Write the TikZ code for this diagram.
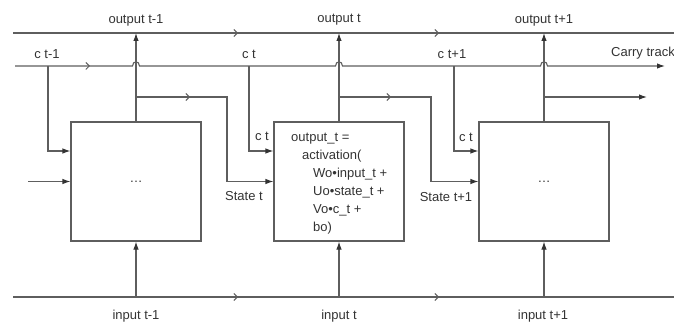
\documentclass[tikz,border=0pt]{standalone}
\usepackage{fontspec}
\setmainfont{Liberation Sans}
\usetikzlibrary{arrows.meta,decorations.markings}
\definecolor{ln}{HTML}{5E5E5E}
\definecolor{tx}{HTML}{333333}
\begin{document}
\begin{tikzpicture}[x=1pt,y=-1pt,
  every node/.style={font=\fontsize{13}{18}\selectfont, text=tx},
  wire/.style={draw=ln, line width=1.1pt},
  tip/.style={-{Latex[length=8pt,width=5.5pt,color=tx]}},
  cell/.style={draw=ln, line width=1.1pt, minimum width=130pt, minimum height=119pt, inner sep=0pt},
  chev/.style={postaction={decorate}, decoration={markings,
     mark=at position #1 with {\arrow[ln]{Straight Barb[length=3.5pt,width=7pt,line width=1pt]}}}},
  chevs/.style 2 args={postaction={decorate}, decoration={markings,
     mark=at position #1 with {\arrow[ln]{Straight Barb[length=3.5pt,width=7pt,line width=1pt]}},
     mark=at position #2 with {\arrow[ln]{Straight Barb[length=3.5pt,width=7pt,line width=1pt]}}}},
]
\useasboundingbox (0,0) rectangle (674,323);

% boxes
\node[cell] (b1) at (136,181.5) {\ldots};
\node[cell] (b2) at (339,181.5) {};
\node[cell] (b3) at (544,181.5) {\ldots};
\node[anchor=north west, align=left, inner sep=0pt] (b2txt) at (291,133)
  {output\_t =\\\hspace{11pt}activation(\\\hspace{22pt}Wo•input\_t +\\\hspace{22pt}Uo•state\_t +\\\hspace{22pt}Vo•c\_t +\\\hspace{22pt}bo)};

% coordinates
\coordinate (tl) at (13,33);  \coordinate (tr) at (674,33);
\coordinate (bl) at (13,297); \coordinate (br) at (674,297);
\coordinate (cl) at (15,66);  \coordinate (cr) at (665,66);
\coordinate (o1) at (136,33); \coordinate (o2) at (339,33); \coordinate (o3) at (544,33);
\coordinate (i1) at (136,297); \coordinate (i2) at (339,297); \coordinate (i3) at (544,297);
\coordinate (h1a) at (132.5,66); \coordinate (h1b) at (139.5,66);
\coordinate (h2a) at (335.5,66); \coordinate (h2b) at (342.5,66);
\coordinate (h3a) at (540.5,66); \coordinate (h3b) at (547.5,66);
\coordinate (s1) at (136,97); \coordinate (s1r) at (227,97);
\coordinate (s2) at (339,97); \coordinate (s2r) at (431,97);
\coordinate (s3) at (544,97); \coordinate (s3r) at (647,97);
\coordinate (c1) at (48,66); \coordinate (c2) at (249,66); \coordinate (c3) at (454,66);
\coordinate (cy) at (0,151);
\coordinate (lin) at (28,181.5);

% main tracks
\draw[wire, chevs={225pt}{426pt}] (tl) -- (tr);
\draw[wire, chevs={225pt}{426pt}] (bl) -- (br);
\draw[wire, tip, chev=75pt] (cl) -- (h1a) .. controls +(0,-5.5) and +(0,-5.5) .. (h1b)
  -- (h2a) .. controls +(0,-5.5) and +(0,-5.5) .. (h2b)
  -- (h3a) .. controls +(0,-5.5) and +(0,-5.5) .. (h3b) -- (cr);

% outputs
\draw[wire, tip] (b1.north) -- (o1);
\draw[wire, tip] (b2.north) -- (o2);
\draw[wire, tip] (b3.north) -- (o3);
% inputs
\draw[wire, tip] (i1) -- (b1.south);
\draw[wire, tip] (i2) -- (b2.south);
\draw[wire, tip] (i3) -- (b3.south);
% states
\draw[wire, tip] (lin) -- (b1.west);
\draw[wire, tip, chev=54pt] (s1) -- (s1r) |- (b2.west);
\draw[wire, tip, chev=52pt] (s2) -- (s2r) |- (b3.west);
\draw[wire, tip] (s3) -- (s3r);
% carry branches
\draw[wire, tip] (c1) |- (cy -| b1.west);
\draw[wire, tip] (c2) |- (cy -| b2.west);
\draw[wire, tip] (c3) |- (cy -| b3.west);

% labels
\node (lo1) at (136,20) {output t-1};
\node (lo2) at (339,20) {output t};
\node (lo3) at (544,20) {output t+1};
\node (lc1) at (47,54) {c t-1};
\node (lc2) at (249,54) {c t};
\node (lc3) at (452,54) {c t+1};
\node[anchor=west, inner sep=0pt] (lct) at (611,53) {Carry track};
\node (lcb2) at (262,136) {c t};
\node (lcb3) at (466,137) {c t};
\node (ls2) at (244,196) {State t};
\node (ls3) at (446,197) {State t+1};
\node (li1) at (136,316) {input t-1};
\node (li2) at (339,316) {input t};
\node (li3) at (543,316) {input t+1};
\end{tikzpicture}
\end{document}
